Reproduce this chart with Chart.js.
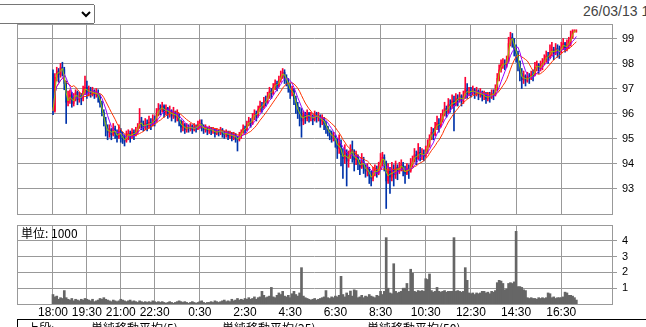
<!DOCTYPE html>
<html><head><meta charset="utf-8">
<script src="https://cdn.jsdelivr.net/npm/chart.js@4.4.1/dist/chart.umd.min.js"></script>
<style>
html,body{margin:0;padding:0;background:#fff;}
body{width:646px;height:327px;overflow:hidden;position:relative;font-family:"Liberation Sans",Arial,sans-serif;}
canvas{position:absolute;left:0;top:0;}
#sel{position:absolute;left:-5px;top:4px;width:100px;height:20px;font-size:13px;}
#date{position:absolute;left:583px;top:2px;font-size:14px;color:#444;white-space:nowrap;line-height:18px;}
#unit{position:absolute;left:21px;top:226px;font:12px/14px "Noto Sans CJK JP",sans-serif;color:#000;}
#legend{position:absolute;left:17px;top:319px;width:660px;height:30px;border:1px solid #000;box-sizing:border-box;font:12px/14px "Noto Sans CJK JP",sans-serif;color:#000;}
#legend span{position:absolute;top:1px;white-space:nowrap;}
</style></head>
<body>
<select id="sel"><option></option></select>
<div id="date">26/03/13 17:15</div>
<canvas id="main" width="646" height="327"></canvas>
<canvas id="vol" width="646" height="327"></canvas>
<div id="unit">単位: 1000</div>
<div id="legend"><span style="left:9px">上段:</span><span style="left:73px">単純移動平均(5)</span><span style="left:204px">単純移動平均(25)</span><span style="left:349px">単純移動平均(50)</span></div>
<script>
// ---- data (5-minute bars starting 18:00) ----
const opens = [
97.60,96.10,97.45,97.70,97.55,97.85,97.75,97.20,
96.45,96.55,96.75,96.40,96.60,96.85,96.55,96.70,96.60,96.90,97.05,
96.85,96.95,96.80,96.90,96.75,96.85,
96.70,96.40,96.05,95.70,95.40,
95.25,95.35,95.15,95.40,95.20,95.05,95.30,95.10,95.00,94.90,
95.10,95.20,95.05,95.25,95.15,95.30,
95.45,95.70,95.55,95.45,95.60,95.50,95.65,95.55,95.75,95.70,
95.95,96.20,96.15,96.30,96.05,
96.20,96.00,96.10,95.90,96.05,95.85,
95.95,95.70,95.45,95.55,95.35,
95.45,95.40,95.50,95.35,95.45,95.40,95.55,95.60,95.50,95.35,95.45,
95.30,95.40,95.30,95.35,95.20,95.30,95.25,95.35,95.20,95.15,95.25,95.10,95.20,95.05,95.15,95.00,94.95,
95.10,95.25,95.40,95.35,95.55,95.70,95.60,95.85,96.00,95.90,96.15,96.30,
96.25,96.50,96.45,96.70,96.90,96.80,97.05,97.20,97.10,97.35,97.50,97.65,
97.45,97.30,97.10,96.85,96.95,96.60,96.30,96.05,
96.00,95.70,95.95,95.80,96.00,95.85,95.90,95.75,95.95,95.85,95.90,95.70,95.80,95.60,
95.45,95.30,95.20,95.05,95.10,94.90,94.60,94.80,94.35,94.20,94.45,
94.10,94.30,94.55,94.40,94.15,
94.30,94.05,93.85,94.10,93.90,93.70,
93.80,93.50,93.40,
93.65,93.75,93.60,93.85,
94.10,94.25,94.05,
93.30,93.70,93.45,93.75,93.55,93.85,
93.70,93.85,93.95,93.75,93.60,93.80,93.70,
93.95,94.10,94.35,94.20,94.45,
94.35,94.40,94.30,94.55,
94.70,95.00,95.25,95.15,95.45,95.60,95.50,
95.75,95.95,96.20,96.05,96.35,
96.30,96.50,96.35,96.60,96.55,96.70,96.50,
96.65,96.95,96.80,
96.90,96.85,96.95,96.80,96.90,96.75,96.85,
96.70,96.75,96.60,96.70,96.65,96.80,96.75,
96.95,97.40,97.75,
97.95,98.00,97.95,
98.10,98.80,99.05,
98.95,98.60,98.40,
98.10,97.60,97.35,97.50,
97.30,97.45,97.40,97.55,
97.50,97.85,97.95,97.80,97.90,
98.00,98.15,98.30,98.25,98.45,98.55,98.40,98.60,98.50,
98.45,98.65,98.80,98.60,98.75,98.85,
99.00,99.30,99.30];

const highs = [
97.75,97.60,97.85,97.80,98.00,98.05,97.85,97.30,
96.90,96.95,96.85,96.80,96.95,96.90,96.85,96.80,97.10,97.50,97.30,
97.10,97.05,97.05,96.95,97.00,96.95,
96.75,96.50,96.15,95.85,95.55,
95.55,95.40,95.60,95.50,95.35,95.55,95.40,95.25,95.15,95.30,
95.35,95.30,95.40,95.35,95.45,95.60,
96.20,95.85,95.70,95.80,95.75,95.90,95.80,95.95,95.90,96.20,
96.40,96.35,96.45,96.35,96.35,
96.25,96.30,96.15,96.25,96.10,96.15,
96.00,95.75,95.70,95.60,95.60,
95.55,95.60,95.55,95.60,95.55,95.70,95.75,95.75,95.55,95.55,95.45,
95.50,95.45,95.45,95.40,95.40,95.35,95.45,95.40,95.30,95.35,95.30,95.30,95.25,95.25,95.20,95.10,95.25,
95.35,95.55,95.50,95.70,95.85,95.80,96.00,96.15,96.10,96.30,96.50,96.45,
96.65,96.70,96.85,97.05,97.00,97.20,97.35,97.30,97.50,97.70,97.80,97.75,
97.55,97.40,97.20,97.10,97.00,96.70,96.45,96.25,
96.20,96.10,96.05,96.15,96.05,96.05,95.95,96.10,96.05,96.05,95.95,95.95,95.85,95.70,
95.50,95.35,95.30,95.25,95.15,95.00,95.15,94.95,94.60,94.75,94.55,
94.50,94.75,94.90,94.55,94.50,
94.35,94.15,94.40,94.25,93.95,94.00,
93.85,93.70,93.85,
93.95,93.90,94.05,94.40,
94.45,94.35,94.10,
94.00,93.85,94.05,93.95,94.10,93.95,
94.05,94.15,94.05,93.90,94.00,93.95,94.20,
94.30,94.60,94.50,94.80,94.65,
94.60,94.55,94.70,94.95,
95.15,95.45,95.40,95.65,95.90,95.80,96.00,
96.15,96.45,96.30,96.60,96.55,
96.75,96.70,96.80,96.75,96.85,96.75,96.90,
97.45,97.20,97.05,
97.05,97.10,97.00,97.05,96.95,97.00,96.90,
96.90,96.85,96.85,96.85,96.95,96.95,97.15,
97.60,97.95,98.15,
98.20,98.15,98.30,
99.05,99.25,99.20,
99.00,98.75,98.50,
98.10,97.80,97.70,97.55,
97.65,97.60,97.70,97.75,
98.05,98.10,98.00,98.10,98.20,
98.35,98.50,98.45,98.75,98.85,98.65,98.80,98.75,98.70,
98.85,99.00,98.85,98.95,99.05,99.30,
99.35,99.35,99.35];

const lows = [
95.95,96.05,97.30,97.25,97.45,97.50,96.95,95.60,
96.30,96.40,96.25,96.30,96.50,96.35,96.45,96.35,96.50,96.75,96.60,
96.70,96.65,96.70,96.60,96.65,96.45,
96.25,95.90,95.50,95.10,94.95,
95.05,94.95,95.10,95.00,94.85,95.00,94.85,94.80,94.70,94.85,
94.95,94.85,95.00,94.95,95.10,95.20,
95.40,95.35,95.30,95.35,95.30,95.40,95.35,95.50,95.50,95.65,
95.90,95.95,96.05,95.85,95.95,
95.80,95.85,95.70,95.80,95.65,95.70,
95.50,95.25,95.30,95.20,95.25,
95.25,95.30,95.20,95.30,95.25,95.35,95.40,95.30,95.20,95.25,95.15,
95.20,95.15,95.20,95.05,95.15,95.10,95.15,95.05,95.00,95.05,94.95,95.00,94.90,94.95,94.85,94.50,94.90,
95.00,95.20,95.20,95.30,95.50,95.45,95.55,95.75,95.70,95.85,96.05,96.05,
96.20,96.30,96.40,96.60,96.60,96.75,96.95,96.90,97.05,97.25,97.40,97.20,
97.10,96.85,96.60,96.70,96.35,96.00,95.80,95.50,
95.05,95.55,95.60,95.70,95.65,95.70,95.55,95.70,95.65,95.70,95.45,95.55,95.35,95.20,
95.10,94.95,94.85,94.90,94.65,94.20,94.40,93.90,93.40,94.00,93.10,
93.85,94.20,94.05,93.70,93.95,
93.75,93.55,93.80,93.60,93.45,93.50,
93.20,93.10,93.30,
93.50,93.45,93.55,93.80,
93.90,93.70,92.20,
93.20,92.80,93.30,93.10,93.40,93.35,
93.60,93.70,93.50,93.20,93.55,93.40,93.65,
93.85,94.05,93.95,94.15,94.10,
94.15,94.10,94.25,94.40,
94.65,94.95,94.95,95.10,95.35,95.25,95.45,
95.65,95.90,95.85,96.00,96.05,
96.20,95.30,96.30,96.30,96.45,96.30,96.40,
96.60,96.60,96.70,
96.65,96.75,96.60,96.70,96.55,96.65,96.50,
96.55,96.40,96.50,96.45,96.60,96.55,96.70,
96.90,97.30,97.65,
97.80,97.75,97.85,
98.05,98.70,98.65,
98.30,98.05,97.70,
97.30,97.00,97.20,97.10,
97.25,97.20,97.35,97.30,
97.55,97.70,97.60,97.70,97.75,
97.95,98.05,98.00,98.20,98.30,98.15,98.35,98.25,98.20,
98.40,98.55,98.45,98.50,98.60,98.70,
99.05,99.25,99.25];

const closes = [
96.10,97.45,97.70,97.55,97.85,97.75,97.20,96.45,
96.55,96.75,96.40,96.60,96.85,96.55,96.70,96.60,96.90,97.05,96.85,
96.95,96.80,96.90,96.75,96.85,96.70,
96.40,96.05,95.70,95.40,95.25,
95.35,95.15,95.40,95.20,95.05,95.30,95.10,95.00,94.90,95.10,
95.20,95.05,95.25,95.15,95.30,95.45,
95.70,95.55,95.45,95.60,95.50,95.65,95.55,95.75,95.70,95.95,
96.20,96.15,96.30,96.05,96.20,
96.00,96.10,95.90,96.05,95.85,95.95,
95.70,95.45,95.55,95.35,95.45,
95.40,95.50,95.35,95.45,95.40,95.55,95.60,95.50,95.35,95.45,95.30,
95.40,95.30,95.35,95.20,95.30,95.25,95.35,95.20,95.15,95.25,95.10,95.20,95.05,95.15,95.00,94.95,95.10,
95.25,95.40,95.35,95.55,95.70,95.60,95.85,96.00,95.90,96.15,96.30,96.25,
96.50,96.45,96.70,96.90,96.80,97.05,97.20,97.10,97.35,97.50,97.65,97.45,
97.30,97.10,96.85,96.95,96.60,96.30,96.05,96.00,
95.70,95.95,95.80,96.00,95.85,95.90,95.75,95.95,95.85,95.90,95.70,95.80,95.60,95.45,
95.30,95.20,95.05,95.10,94.90,94.60,94.80,94.35,94.20,94.45,94.10,
94.30,94.55,94.40,94.15,94.30,
94.05,93.85,94.10,93.90,93.70,93.80,
93.50,93.40,93.65,
93.75,93.60,93.85,94.10,
94.25,94.05,93.30,
93.70,93.45,93.75,93.55,93.85,93.70,
93.85,93.95,93.75,93.60,93.80,93.70,93.95,
94.10,94.35,94.20,94.45,94.35,
94.40,94.30,94.55,94.70,
95.00,95.25,95.15,95.45,95.60,95.50,95.75,
95.95,96.20,96.05,96.35,96.30,
96.50,96.35,96.60,96.55,96.70,96.50,96.65,
96.95,96.80,96.90,
96.85,96.95,96.80,96.90,96.75,96.85,96.70,
96.75,96.60,96.70,96.65,96.80,96.75,96.95,
97.40,97.75,97.95,
98.00,97.95,98.10,
98.80,99.05,98.95,
98.60,98.40,98.10,
97.60,97.35,97.50,97.30,
97.45,97.40,97.55,97.50,
97.85,97.95,97.80,97.90,98.00,
98.15,98.30,98.25,98.45,98.55,98.40,98.60,98.50,98.45,
98.65,98.80,98.60,98.75,98.85,99.00,
99.30,99.30,99.30];

// volume, in thousands
const volumes = [
0.60,0.45,0.50,0.30,0.40,0.35,0.85,0.40,
0.30,0.25,0.35,0.20,0.30,0.25,0.20,0.30,0.25,0.35,0.30,
0.25,0.20,0.30,0.15,0.20,0.25,
0.35,0.30,0.40,0.30,0.25,
0.20,0.15,0.25,0.20,0.15,0.20,0.30,0.25,0.20,0.15,
0.20,0.25,0.15,0.20,0.15,0.10,
0.20,0.15,0.10,0.15,0.10,0.15,0.10,0.20,0.15,0.10,
0.15,0.10,0.15,0.10,0.05,
0.10,0.15,0.10,0.05,0.10,0.15,
0.20,0.15,0.10,0.15,0.10,
0.05,0.10,0.15,0.10,0.05,0.10,0.15,0.20,0.10,0.05,0.10,
0.10,0.15,0.10,0.20,0.15,0.10,0.15,0.20,0.25,0.15,0.20,0.15,0.30,0.20,0.25,0.35,0.25,
0.30,0.25,0.35,0.30,0.40,0.30,0.35,0.45,0.30,0.40,0.45,0.80,
0.55,0.40,0.45,0.50,1.05,0.45,0.40,0.55,0.70,0.60,0.80,0.50,
0.45,0.55,0.40,0.65,0.80,0.60,0.50,0.70,
2.30,0.50,0.40,0.35,0.30,0.25,0.30,0.35,0.25,0.30,0.35,0.40,0.45,0.85,
0.40,0.35,0.45,0.40,0.50,0.45,0.55,1.75,0.60,0.45,0.70,
0.55,0.82,0.50,0.90,0.85,
0.40,0.45,0.55,0.40,0.50,0.45,
0.60,0.50,0.45,
0.40,0.55,0.50,0.80,
0.60,0.80,4.20,
1.00,0.70,0.65,2.55,0.80,0.70,
0.75,0.80,1.00,1.00,1.30,0.80,2.20,
1.95,0.80,0.75,0.85,0.80,
0.85,0.80,1.60,1.55,
1.90,0.85,0.75,0.80,1.05,0.80,0.75,
0.80,0.85,0.75,0.80,0.80,
0.80,4.20,0.80,0.85,0.80,0.75,0.80,
2.30,1.50,0.70,
0.65,0.70,0.60,0.70,0.65,0.70,0.80,
0.80,0.70,0.75,0.65,0.80,0.75,0.85,
1.35,1.50,1.45,
1.30,0.90,0.95,
1.30,1.35,1.30,
1.40,4.60,1.10,
1.10,1.05,0.90,0.85,
0.40,0.35,0.40,0.35,
0.35,0.30,0.40,0.35,0.40,
0.35,0.40,0.70,0.65,0.40,0.45,0.35,0.40,0.40,
0.40,0.45,0.75,0.70,0.55,0.55,
0.50,0.40,0.25];

const barMinutes = 5;                 // bar length; x = minutes after 18:00
const maMinutes = [5, 25, 50];        // moving-average lengths in minutes
const tickMinutes = [0, 90, 180, 270, 390, 510, 630, 750, 870, 990, 1110, 1230, 1350];
const tickLabels = ['18:00','19:30','21:00','22:30','0:30','2:30','4:30','6:30','8:30','10:30','12:30','14:30','16:30'];
const priceTicks = [93, 94, 95, 96, 97, 98, 99];
const volumeTicks = [1, 2, 3, 4];

[opens, highs, lows, volumes].forEach((a, k) => {
  if (a.length !== closes.length) throw new Error('length mismatch ' + k + ': ' + a.length + ' vs ' + closes.length);
});

// ---- chart ----
const X_MIN = -95.6, X_MAX = 1484.7;
const GRID = '#999999';
const RED = '#ff0033', BLUE = '#0033aa';
const MA_COLORS = ['#99cc00', '#9900ff', '#ff3300'];
const TICK_FONT = { family: '"Liberation Sans", Arial, sans-serif', size: 11 };

const times = closes.map((_, i) => i * barMinutes);
function sma(values, n) {
  return values.map((_, i) => {
    const s = Math.max(0, i - n + 1);
    let sum = 0;
    for (let k = s; k <= i; k++) sum += values[k];
    return sum / (i - s + 1);
  });
}
// window in bars giving the same lag as an m-minute average of 1-minute closes
const maWindow = m => Math.round((m - 1) / barMinutes) + 1;
const candleColors = closes.map((c, i) => (c >= opens[i] ? RED : BLUE));

const frame = {
  id: 'frame',
  afterDraw(chart) {
    const { ctx, chartArea: a } = chart;
    ctx.save();
    ctx.strokeStyle = GRID;
    ctx.lineWidth = 1;
    ctx.strokeRect(Math.round(a.left) + 0.5, Math.round(a.top) + 0.5,
                   Math.round(a.right - a.left), Math.round(a.bottom - a.top));
    ctx.restore();
  }
};

const common = {
  responsive: false,
  animation: false,
  devicePixelRatio: 1,
  events: [],
  plugins: { legend: { display: false }, tooltip: { enabled: false } },
};

const maDatasets = maMinutes.map((m, k) => {
  const ma = sma(closes, maWindow(m));
  return {
    type: 'line',
    data: times.map((t, i) => ({ x: t, y: ma[i] })),
    borderColor: MA_COLORS[k],
    borderWidth: 1,
    pointRadius: 0,
    tension: 0,
    fill: false,
    order: k,
  };
});

new Chart(document.getElementById('main'), {
  type: 'bar',
  data: {
    datasets: [
      ...maDatasets,
      {
        type: 'bar',
        data: times.map((t, i) => ({ x: t, y: [opens[i], closes[i]] })),
        backgroundColor: candleColors,
        barThickness: 1,
        grouped: false,
        order: 3,
      },
      {
        type: 'bar',
        data: times.map((t, i) => ({ x: t, y: [lows[i], highs[i]] })),
        backgroundColor: candleColors,
        barThickness: 1,
        grouped: false,
        order: 4,
      },
    ],
  },
  options: {
    ...common,
    layout: { padding: { left: 17, top: 24, right: 0, bottom: 113 } },
    scales: {
      x: {
        type: 'linear', min: X_MIN, max: X_MAX, offset: false,
        grid: { color: GRID, offset: false, drawTicks: false },
        border: { color: GRID },
        ticks: { display: false },
        afterBuildTicks: s => { s.ticks = tickMinutes.map(v => ({ value: v })); },
        afterFit: s => { s.height = 0; },
      },
      y: {
        type: 'linear', position: 'right', min: 91.98, max: 99.58,
        grid: { color: GRID, tickLength: 5 },
        border: { color: GRID },
        ticks: { font: TICK_FONT, color: '#000', padding: 5 },
        afterBuildTicks: s => { s.ticks = priceTicks.map(v => ({ value: v })); },
        afterFit: s => { s.width = 34; },
      },
    },
  },
  plugins: [frame],
});

new Chart(document.getElementById('vol'), {
  type: 'bar',
  data: {
    datasets: [{
      data: times.map((t, i) => ({ x: t, y: volumes[i] })),
      backgroundColor: '#666666',
      barThickness: 2,
      grouped: false,
    }],
  },
  options: {
    ...common,
    layout: { padding: { left: 17, top: 225, right: 0, bottom: 0 } },
    scales: {
      x: {
        type: 'linear', min: X_MIN, max: X_MAX, offset: false,
        grid: { color: GRID, offset: false, drawTicks: false },
        border: { color: GRID },
        ticks: {
          font: { family: '"Liberation Sans", Arial, sans-serif', size: 12 }, color: '#000',
          padding: 1, autoSkip: false, maxRotation: 0,
          callback: (v, i) => tickLabels[i],
        },
        afterBuildTicks: s => { s.ticks = tickMinutes.map(v => ({ value: v })); },
        afterFit: s => { s.height = 23; },
      },
      y: {
        type: 'linear', position: 'right', min: 0, max: 5,
        grid: { color: GRID, tickLength: 5 },
        border: { color: GRID },
        ticks: { font: TICK_FONT, color: '#000', padding: 5 },
        afterBuildTicks: s => { s.ticks = volumeTicks.map(v => ({ value: v })); },
        afterFit: s => { s.width = 34; },
      },
    },
  },
  plugins: [frame],
});
</script>
</body></html>
